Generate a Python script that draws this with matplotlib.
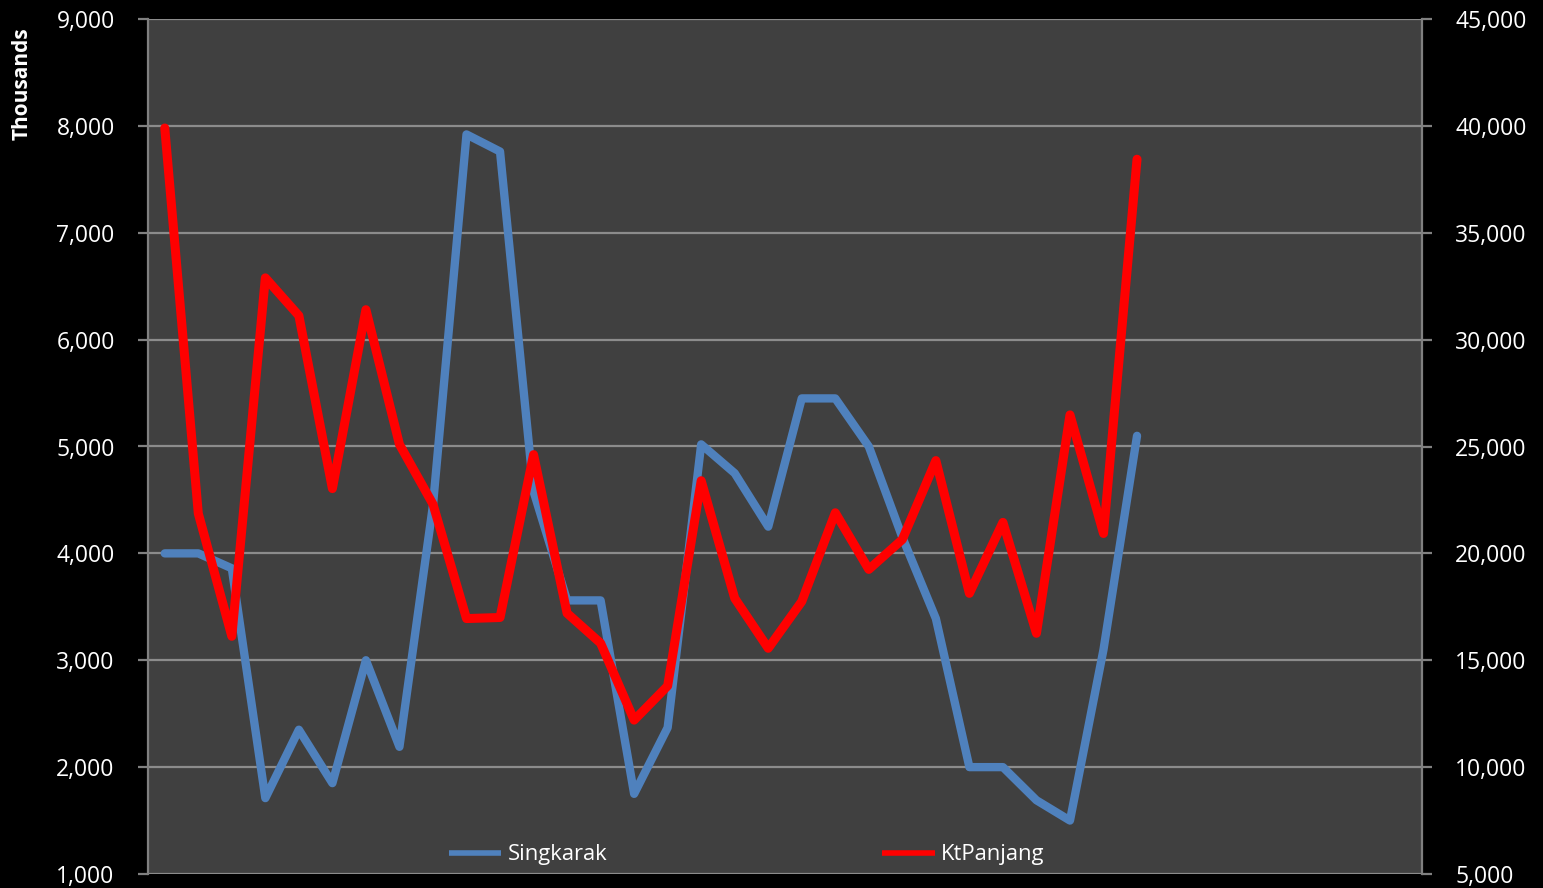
import numpy as np
import matplotlib
matplotlib.use("Agg")
import matplotlib.pyplot as plt
from matplotlib.ticker import FuncFormatter

# category slots on the x axis (only the first 30 carry data)
n_slots = 38
singkarak = [4000, 4000, 3860, 1710, 2350, 1850, 3000, 2190, 4450, 7920,
             7760, 4580, 3560, 3560, 1750, 2370, 5020, 4750, 4250, 5450,
             5450, 5000, 4150, 3390, 2000, 2000, 1690, 1500, 3100, 5100]
ktpanjang = [39900, 21870, 16120, 32890, 31120, 23030, 31400, 25100, 22300, 16950,
             17000, 24620, 17200, 15800, 12200, 13800, 23400, 17900, 15560, 17750,
             21900, 19250, 20650, 24340, 18130, 21450, 16260, 26480, 20930, 38440]

left_ticks = [1000, 2000, 3000, 4000, 5000, 6000, 7000, 8000, 9000]
right_ticks = [5000, 10000, 15000, 20000, 25000, 30000, 35000, 40000, 45000]

plt.rcParams['font.family'] = ['Open Sans', 'DejaVu Sans']

fig = plt.figure(figsize=(15.43, 8.88), dpi=100, facecolor='black')
ax = fig.add_axes([148 / 1543, 1 - 874 / 888, (1422 - 148) / 1543, (874 - 19) / 888])
ax.set_facecolor('#404040')
ax2 = ax.twinx()

x = np.arange(len(singkarak))
l1, = ax.plot(x, singkarak, color='#4F81BD', lw=6, solid_capstyle='round',
              solid_joinstyle='round', label='Singkarak', zorder=3)
l2, = ax2.plot(x, ktpanjang, color='#FF0000', lw=6.5, solid_capstyle='round',
               solid_joinstyle='round', label='KtPanjang', zorder=3)

ax.set_xlim(-0.5, n_slots - 0.5)
ax.set_ylim(1000, 9000)
ax2.set_ylim(5000, 45000)
ax.set_yticks(left_ticks)
ax2.set_yticks(right_ticks)
fmt = FuncFormatter(lambda v, p: f"{int(v):,}")
ax.yaxis.set_major_formatter(fmt)
ax2.yaxis.set_major_formatter(fmt)
ax.grid(axis='y', color='#8c8c8c', lw=1.6)
ax.set_axisbelow(True)
ax.set_xticks([])

for a in (ax, ax2):
    for s in a.spines.values():
        s.set_visible(False)
    a.tick_params(axis='y', colors='#808080', labelcolor='white', labelsize=16.5,
                  length=7, width=1.6, pad=17)
ax.spines['left'].set_visible(True)
ax.spines['left'].set_color('#808080')
ax.spines['left'].set_linewidth(1.6)
ax2.spines['right'].set_visible(True)
ax2.spines['right'].set_color('#808080')
ax2.spines['right'].set_linewidth(1.6)

fig.text(22 / 1543, 1 - 84 / 888, 'Thousands', rotation=90, color='white',
         fontsize=15, fontweight='bold', ha='center', va='center')

leg = ax.legend(handles=[l1, l2], loc='center left', bbox_to_anchor=(0.236, 0.0225),
                ncol=2, frameon=False, fontsize=15.8, handlelength=2.4,
                handletextpad=0.3, columnspacing=12.5, borderpad=0, borderaxespad=0)
for t in leg.get_texts():
    t.set_color('white')
for h in leg.legend_handles:
    h.set_linewidth(4)
    h.set_solid_capstyle('butt')

fig.savefig('out.png', dpi=100, facecolor='black')
